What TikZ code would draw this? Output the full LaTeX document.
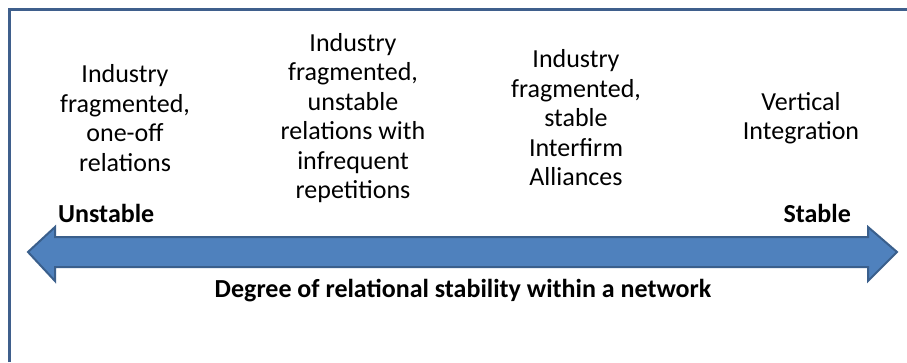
\documentclass[tikz,border=0pt]{standalone}
\usepackage{fontspec}
\setmainfont{Carlito}
\definecolor{framecol}{HTML}{3F5F8C}
\definecolor{arrowfill}{HTML}{4F81BD}
\definecolor{arrowdraw}{HTML}{3A5F8C}
\begin{document}
\begin{tikzpicture}[x=1pt,y=1pt,
  coltext/.style={align=center,font=\fontsize{26}{29.5}\selectfont,inner sep=0pt},
  endlabel/.style={font=\fontsize{26}{29.5}\selectfont\bfseries,inner sep=0pt},
  framestyle/.style={draw=framecol,line width=3.5pt},
  arrowstyle/.style={fill=arrowfill,draw=arrowdraw,line width=2pt,line join=miter}]
\useasboundingbox (0,0) rectangle (907,362);
\fill[white] (0,0) rectangle (907,362);
\draw[framestyle] (9.5,0) -- (9.5,352.5) -- (910,352.5);
% double arrow
\draw[arrowstyle] (28,110) -- (55,135) -- (55,125) -- (868,125) -- (868,135) -- (897,110)
  -- (868,81) -- (868,95) -- (55,95) -- (55,81) -- cycle;
\node[coltext] (c1) at (125,244) {Industry\\fragmented,\\one-off\\relations};
\node[coltext] (c2) at (353,244) {Industry\\fragmented,\\unstable\\relations with\\infrequent\\repetitions};
\node[coltext] (c3) at (576,244) {Industry\\fragmented,\\stable\\Interfirm\\Alliances};
\node[coltext] (c4) at (801,244) {Vertical\\Integration};
\node[endlabel,anchor=base west] (unst) at (58,140) {Unstable};
\node[endlabel,anchor=base east] (stab) at (851,140) {Stable};
\node[endlabel,anchor=base] (deg) at (463,65) {Degree of relational stability within a network};
\end{tikzpicture}
\end{document}
